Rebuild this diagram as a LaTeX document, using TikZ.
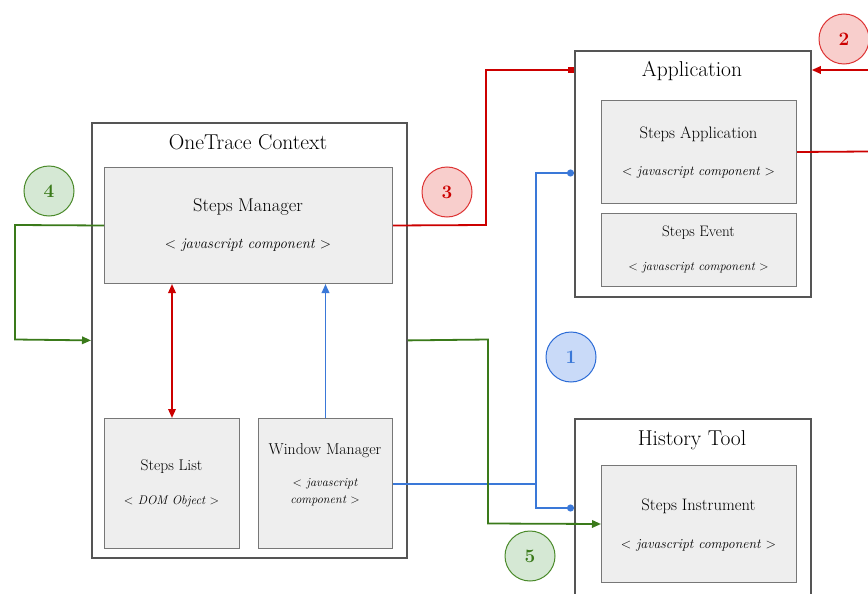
\documentclass[tikz,border=0pt]{standalone}
\usepackage{fontspec}
\usetikzlibrary{arrows.meta}
\definecolor{cred}{HTML}{CC0000}
\definecolor{cblue}{HTML}{3A78D8}
\definecolor{cgreen}{HTML}{3A7A1A}
\definecolor{credfill}{HTML}{F8CECC}
\definecolor{credstroke}{HTML}{DD3333}
\definecolor{cbluefill}{HTML}{C9DAF8}
\definecolor{cbluestroke}{HTML}{2B6BD6}
\definecolor{cgreenfill}{HTML}{D5E8D4}
\definecolor{cgreenstroke}{HTML}{4A8A2A}
\definecolor{boxgray}{HTML}{555555}
\definecolor{innergray}{HTML}{777777}
\definecolor{innerfill}{HTML}{EEEEEE}
\begin{document}
\begin{tikzpicture}[x=1pt,y=-1pt,
  outerbox/.style={draw=boxgray,line width=1.8pt,fill=white,anchor=north west,inner sep=0pt},
  innerbox/.style={draw=innergray,line width=1pt,fill=innerfill,anchor=north west,inner sep=0pt},
  titletext/.style={font=\fontsize{21.5}{24}\selectfont,inner sep=0pt},
  maintext/.style={font=\fontsize{18.5}{21}\selectfont,inner sep=0pt},
  subtext/.style={font=\fontsize{14.8}{17}\selectfont\itshape,inner sep=0pt},
  smalltext/.style={font=\fontsize{15.5}{18}\selectfont,inner sep=0pt},
  smallsub/.style={font=\fontsize{12.5}{17}\selectfont\itshape,inner sep=0pt,align=center},
  redline/.style={draw=cred,line width=1.8pt},
  blueline/.style={draw=cblue,line width=1.8pt},
  greenline/.style={draw=cgreen,line width=1.8pt},
  tip/.style={-{Triangle[length=9pt,width=7.5pt]}},
  badge/.style={circle,minimum size=50pt,inner sep=0pt,line width=1pt,font=\fontsize{19}{21}\selectfont\bfseries},
  redbadge/.style={badge,draw=credstroke,fill=credfill,text=cred},
  bluebadge/.style={badge,draw=cbluestroke,fill=cbluefill,text=cblue},
  greenbadge/.style={badge,draw=cgreenstroke,fill=cgreenfill,text=cgreen}
]
\useasboundingbox (0,0) rectangle (868,594);

% OneTrace Context
\node[outerbox,minimum width=315pt,minimum height=435pt] (ctx) at (91,122) {};
\node[titletext] (ctxt) at (248,142) {OneTrace Context};
\node[innerbox,minimum width=288pt,minimum height=116pt] (sm) at (104,167) {};
\node[maintext] (smt) at (248,207) {Steps Manager};
\node[subtext] (sms) at (248,245) {{\upshape<} javascript component {\upshape>}};
\node[innerbox,minimum width=135pt,minimum height=130pt] (sl) at (104,418) {};
\node[smalltext] (slt) at (171.5,467) {Steps List};
\node[smallsub] (sls) at (171.5,501) {{\upshape<} DOM Object {\upshape>}};
\node[innerbox,minimum width=134pt,minimum height=130pt] (wm) at (258,418) {};
\node[smalltext,font=\fontsize{15.8}{18}\selectfont] (wmt) at (325,451) {Window Manager};
\node[smallsub,font=\fontsize{12.3}{17}\selectfont\itshape] (wms) at (325,492.5) {{\upshape<} javascript\\component {\upshape>}};

% Application
\node[outerbox,minimum width=236pt,minimum height=246pt] (app) at (574,50) {};
\node[titletext] (appt) at (692,71) {Application};
\node[innerbox,minimum width=195pt,minimum height=103pt] (sa) at (601,100) {};
\node[maintext,font=\fontsize{16.6}{19}\selectfont] (sat) at (698.5,134) {Steps Application};
\node[subtext,font=\fontsize{13.6}{16}\selectfont\itshape] (sas) at (698.5,172) {{\upshape<} javascript component {\upshape>}};
\node[innerbox,minimum width=195pt,minimum height=73pt] (se) at (601,213) {};
\node[smalltext,font=\fontsize{15.2}{18}\selectfont] (set) at (698.5,233) {Steps Event};
\node[subtext,font=\fontsize{12.5}{15}\selectfont\itshape] (ses) at (698.5,268) {{\upshape<} javascript component {\upshape>}};

% History Tool
\node[outerbox,minimum width=236pt,minimum height=190pt] (ht) at (574,418) {};
\node[titletext] (htt) at (692,440) {History Tool};
\node[innerbox,minimum width=195pt,minimum height=117pt] (si) at (601,465) {};
\node[maintext,font=\fontsize{16.6}{19}\selectfont] (sit) at (698.5,506) {Steps Instrument};
\node[subtext,font=\fontsize{13.8}{16}\selectfont\itshape] (sis) at (698.5,545) {{\upshape<} javascript component {\upshape>}};

% coordinates
\coordinate (r2in) at (868,70);
\coordinate (saout) at (868,151.5);
\coordinate (bj) at (536,484);

% red connectors
\draw[redline,tip] (r2in) -- (app.east |- r2in);
\draw[redline] (sa.east) -- (saout);
\draw[redline,-{Square[length=6pt,width=6pt]}] (sm.east) -- (486,225) -- (486,70) -- (app.west |- 0,70);
\draw[redline,{Triangle[length=9pt,width=7.5pt]}-{Triangle[length=9pt,width=7.5pt]}] (sl.north |- sm.south) -- (sl.north);

% blue connectors
\draw[blueline,tip] (wm.north) -- (wm.north |- sm.south);
\draw[blueline,-{Circle[length=7pt]}] (wm.east |- bj) -- (bj) -- (536,173) -- (app.west |- 0,173);
\draw[blueline,-{Circle[length=7pt]}] (bj) -- (536,508) -- (ht.west |- 0,508);

% green connectors
\draw[greenline,tip] (sm.west) -- (15,225) -- (15,339.5) -- (ctx.west);
\draw[greenline,tip] (ctx.east) -- (488,339.5) -- (488,523.5) -- (si.west);

% badges
\node[redbadge] (b2) at (844,39) {2};
\node[redbadge] (b3) at (447,192) {3};
\node[greenbadge] (b4) at (49,191) {4};
\node[bluebadge] (b1) at (571,357) {1};
\node[greenbadge] (b5) at (530,556) {5};
\end{tikzpicture}
\end{document}
